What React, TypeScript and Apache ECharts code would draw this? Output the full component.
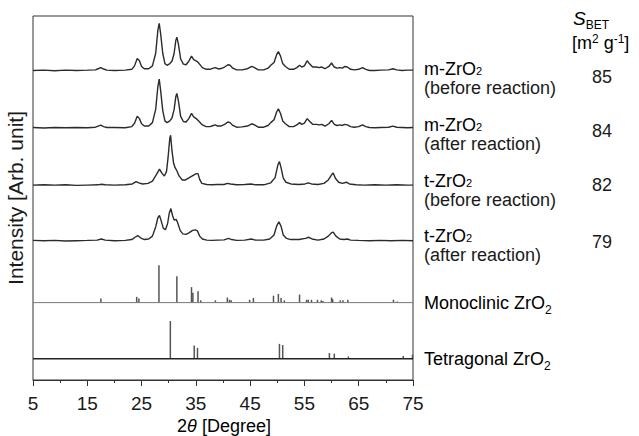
import React, { useEffect, useRef } from "react";
import * as echarts from "echarts";

const FONT = "'Liberation Sans', Arial, sans-serif";

// x axis (2θ, degree)
const xMin = 5;
const xMax = 75;
const xStep = 10;

// sample labels and BET surface areas
const sampleFormula = ["m-ZrO", "m-ZrO", "t-ZrO", "t-ZrO"];
const sampleState = ["(before reaction)", "(after reaction)", "(before reaction)", "(after reaction)"];
const sbetValues = ["85", "84", "82", "79"];
const refNames = ["Monoclinic ZrO", "Tetragonal ZrO"];

// vertical offsets of the stacked patterns (arb. unit)
const traceOffsets = [5.4, 4.4, 3.4, 2.43];
const refOffsets = [1.35, 0.37];

// XRD patterns: [2θ, intensity above own baseline]
const mBefore: [number, number][] = [
  [5, 0], [7, 0.005], [9, -0.005], [11, 0.005], [13, 0], [15, 0.005], [16.5, 0.01], [17.0, 0.03], [17.5, 0.05], [18.0, 0.025], [18.6, 0.005],
  [20, 0], [22, 0.005], [23.2, 0.02], [23.7, 0.08], [24.2, 0.21], [24.6, 0.17], [25.0, 0.07], [25.5, 0.03], [26.3, 0.03], [27.0, 0.08],
  [27.6, 0.3], [28.0, 0.7], [28.25, 0.82], [28.5, 0.65], [28.9, 0.3], [29.3, 0.12], [29.7, 0.09], [30.2, 0.12], [30.6, 0.16], [31.0, 0.3],
  [31.3, 0.52], [31.5, 0.58], [31.8, 0.45], [32.2, 0.2], [32.7, 0.11], [33.2, 0.1], [33.7, 0.16], [34.2, 0.25], [34.6, 0.19], [35.2, 0.16],
  [35.6, 0.12], [36.2, 0.05], [36.9, 0.02], [37.6, 0.02], [38.2, 0.04], [38.6, 0.05], [39.0, 0.03], [39.6, 0.03], [40.3, 0.06], [40.9, 0.1],
  [41.3, 0.09], [41.8, 0.04], [42.5, 0.01], [43.5, 0.01], [44.5, 0.03], [45.3, 0.07], [45.8, 0.05], [46.5, 0.01], [47.5, 0.01], [48.3, 0.04],
  [48.8, 0.09], [49.4, 0.14], [49.9, 0.28], [50.2, 0.33], [50.6, 0.25], [51.0, 0.12], [51.5, 0.07], [52.2, 0.02], [53.0, 0.02], [53.6, 0.05],
  [54.1, 0.09], [54.5, 0.06], [55.0, 0.08], [55.5, 0.17], [55.9, 0.12], [56.5, 0.06], [57.2, 0.06], [57.7, 0.05], [58.2, 0.06], [58.8, 0.03],
  [59.5, 0.07], [60.0, 0.13], [60.5, 0.06], [61.0, 0.04], [61.5, 0.05], [62.0, 0.04], [62.4, 0.07], [62.9, 0.06], [63.5, 0.02], [64.2, 0.01],
  [65.0, 0.02], [65.7, 0.05], [66.3, 0.02], [67, 0], [68, 0], [69, 0.005], [70.5, 0.01], [71.3, 0.03], [72, 0.01], [73, 0], [74, 0.005], [75, 0.005],
];

const mAfter: [number, number][] = [
  [5, 0.005], [7, -0.005], [9, 0.005], [11, 0], [13, 0.005], [15, 0], [16.5, 0.01], [17.0, 0.03], [17.5, 0.045], [18.0, 0.02], [18.6, 0.005],
  [20, 0.005], [22, 0], [23.2, 0.02], [23.7, 0.08], [24.2, 0.2], [24.6, 0.16], [25.0, 0.07], [25.5, 0.03], [26.3, 0.03], [27.0, 0.09],
  [27.6, 0.32], [28.0, 0.72], [28.25, 0.85], [28.5, 0.66], [28.9, 0.3], [29.3, 0.12], [29.7, 0.09], [30.2, 0.12], [30.6, 0.17], [31.0, 0.32],
  [31.3, 0.54], [31.5, 0.6], [31.8, 0.46], [32.2, 0.2], [32.7, 0.11], [33.2, 0.1], [33.7, 0.16], [34.2, 0.25], [34.6, 0.19], [35.2, 0.15],
  [35.6, 0.11], [36.2, 0.05], [36.9, 0.02], [37.6, 0.02], [38.2, 0.04], [38.6, 0.05], [39.0, 0.03], [39.6, 0.03], [40.3, 0.06], [40.9, 0.1],
  [41.3, 0.09], [41.8, 0.04], [42.5, 0.01], [43.5, 0.015], [44.5, 0.03], [45.3, 0.07], [45.8, 0.05], [46.5, 0.01], [47.5, 0.01], [48.3, 0.04],
  [48.8, 0.09], [49.4, 0.14], [49.9, 0.28], [50.2, 0.33], [50.6, 0.25], [51.0, 0.12], [51.5, 0.07], [52.2, 0.02], [53.0, 0.02], [53.6, 0.05],
  [54.1, 0.09], [54.5, 0.06], [55.0, 0.08], [55.5, 0.16], [55.9, 0.12], [56.5, 0.06], [57.2, 0.06], [57.7, 0.05], [58.2, 0.06], [58.8, 0.03],
  [59.5, 0.07], [60.0, 0.13], [60.5, 0.06], [61.0, 0.04], [61.5, 0.05], [62.0, 0.04], [62.4, 0.06], [62.9, 0.05], [63.5, 0.02], [64.2, 0.01],
  [65.0, 0.02], [65.7, 0.05], [66.3, 0.02], [67, 0.005], [68, 0], [69, 0.005], [70.5, 0.01], [71.3, 0.03], [72, 0.01], [73, 0.005], [74, 0], [75, 0.005],
];

const tBefore: [number, number][] = [
  [5, 0], [7, 0.005], [9, 0], [11, 0.005], [13, -0.005], [15, 0], [17, 0.005], [17.6, 0.015], [18.3, 0.005], [20, 0], [22, 0.005],
  [23.3, 0.02], [24.0, 0.06], [24.5, 0.04], [25.2, 0.02], [26.2, 0.03], [27.0, 0.07], [27.7, 0.18], [28.3, 0.28], [28.8, 0.2], [29.2, 0.16],
  [29.6, 0.24], [29.9, 0.5], [30.2, 0.82], [30.35, 0.87], [30.6, 0.6], [30.9, 0.38], [31.2, 0.3], [31.5, 0.25], [31.9, 0.16], [32.5, 0.09],
  [33.1, 0.09], [33.8, 0.13], [34.5, 0.17], [35.1, 0.2], [35.4, 0.2], [35.7, 0.1], [36.1, 0.03], [37, 0.01], [38, 0.005], [39, 0.01],
  [40.2, 0.01], [40.8, 0.03], [41.4, 0.02], [42.5, 0.005], [44, 0.01], [45.2, 0.02], [46, 0.005], [47.5, 0.005], [48.8, 0.04], [49.6, 0.13],
  [50.1, 0.35], [50.4, 0.41], [50.7, 0.3], [51.1, 0.12], [51.6, 0.05], [52.5, 0.02], [54, 0.01], [55.1, 0.02], [55.7, 0.04], [56.3, 0.02],
  [57.5, 0.01], [58.6, 0.03], [59.4, 0.09], [60.0, 0.18], [60.3, 0.21], [60.7, 0.12], [61.3, 0.05], [62.0, 0.03], [62.7, 0.05], [63.3, 0.02],
  [64.5, 0.005], [66, 0], [68, 0.005], [70, 0], [72, 0.005], [74, 0], [75, 0],
];

const tAfter: [number, number][] = [
  [5, 0.005], [7, 0], [9, 0.005], [11, -0.005], [13, 0], [15, 0.005], [16.8, 0.01], [17.6, 0.03], [18.3, 0.01], [20, 0], [22, 0.005],
  [23.2, 0.02], [23.8, 0.06], [24.3, 0.09], [24.8, 0.05], [25.5, 0.02], [26.3, 0.03], [27.0, 0.08], [27.6, 0.24], [28.0, 0.4], [28.3, 0.44],
  [28.6, 0.35], [29.0, 0.22], [29.4, 0.19], [29.8, 0.3], [30.1, 0.48], [30.4, 0.56], [30.7, 0.44], [31.0, 0.36], [31.4, 0.37], [31.7, 0.3],
  [32.1, 0.18], [32.6, 0.12], [33.2, 0.11], [33.8, 0.14], [34.4, 0.18], [34.9, 0.19], [35.3, 0.17], [35.7, 0.08], [36.2, 0.03], [37, 0.01],
  [38, 0.005], [39, 0.01], [40.2, 0.015], [41.0, 0.04], [41.6, 0.02], [42.5, 0.005], [44, 0.01], [45.2, 0.03], [46, 0.01], [47.5, 0.01],
  [48.6, 0.03], [49.4, 0.1], [49.9, 0.26], [50.3, 0.33], [50.7, 0.25], [51.1, 0.1], [51.7, 0.04], [52.5, 0.02], [54, 0.02], [55.2, 0.04],
  [55.8, 0.06], [56.4, 0.03], [57.5, 0.01], [58.6, 0.03], [59.4, 0.08], [60.0, 0.14], [60.3, 0.15], [60.8, 0.08], [61.5, 0.03], [62.3, 0.02],
  [62.9, 0.03], [63.5, 0.01], [65, 0.005], [67, 0], [69, 0.005], [71, 0], [73, 0.005], [75, 0],
];

// reference stick patterns: [2θ, relative intensity]
const monoclinicSticks: [number, number][] = [
  [17.5, 0.07], [24.1, 0.1], [24.5, 0.07], [28.2, 0.65], [31.5, 0.46], [34.2, 0.27], [34.45, 0.17], [35.4, 0.2], [35.9, 0.04],
  [38.6, 0.04], [40.8, 0.09], [41.2, 0.05], [41.5, 0.04], [44.9, 0.05], [45.6, 0.08], [49.3, 0.12], [50.2, 0.15], [50.7, 0.08],
  [51.3, 0.04], [54.1, 0.14], [55.4, 0.05], [55.7, 0.05], [56.3, 0.05], [57.4, 0.05], [58.1, 0.04], [58.4, 0.03], [60.0, 0.09],
  [60.2, 0.06], [61.6, 0.04], [62.1, 0.04], [63.0, 0.05], [64.4, 0.01], [65.8, 0.01], [69.1, 0.01], [71.4, 0.05], [72.1, 0.02], [72.6, 0.01],
];

const tetragonalSticks: [number, number][] = [
  [30.3, 0.66], [34.7, 0.23], [35.3, 0.19], [43.2, 0.01], [50.4, 0.26], [51.0, 0.24], [59.6, 0.1], [60.5, 0.09], [63.1, 0.04],
  [73.2, 0.05], [74.9, 0.07],
];

const traces = [mBefore, mAfter, tBefore, tAfter];
const sticks = [monoclinicSticks, tetragonalSticks];

const INK = "#1a1a1a";
const richStyles = {
  n: { fontSize: 18, lineHeight: 17, fontFamily: FONT, color: INK, verticalAlign: "top" },
  s: { fontSize: 11, lineHeight: 6, fontFamily: FONT, color: INK, verticalAlign: "top", padding: [6, 0, 0, 0] },
  sb: { fontSize: 12, lineHeight: 7, fontFamily: FONT, color: INK, verticalAlign: "top", padding: [10, 0, 0, 0] },
  p: { fontSize: 12, lineHeight: 12, fontFamily: FONT, color: INK, verticalAlign: "top", padding: [-1, 0, 0, 0] },
  i: { fontSize: 19, lineHeight: 17, fontFamily: FONT, color: INK, fontStyle: "italic", verticalAlign: "top" },
  an: { fontSize: 18, lineHeight: 18, fontFamily: FONT, color: INK },
  ai: { fontSize: 18, lineHeight: 18, fontFamily: FONT, color: INK, fontStyle: "italic" },
};

export default function App() {
  const ref = useRef<HTMLDivElement>(null);

  useEffect(() => {
    if (!ref.current) return;
    const chart = echarts.init(ref.current, undefined, { renderer: "svg" });

    const series: any[] = [];
    traces.forEach((pts, k) => {
      series.push({
        type: "line",
        data: pts.map(([x, y]) => [x, y + traceOffsets[k]]),
        showSymbol: false,
        symbol: "none",
        lineStyle: { color: "#2b2b2b", width: 1.4 },
        silent: true,
      });
    });
    sticks.forEach((list, k) => {
      series.push({
        type: "line",
        data: [[xMin, refOffsets[k]], [xMax, refOffsets[k]]],
        showSymbol: false,
        symbol: "none",
        lineStyle: { color: k === 0 ? "#777" : "#222", width: k === 0 ? 1 : 1.6 },
        silent: true,
      });
      series.push({
        type: "custom",
        data: list.map(([x, h]) => [x, refOffsets[k], refOffsets[k] + h]),
        encode: { x: 0, y: [1, 2] },
        renderItem: (_p: any, api: any) => {
          const a = api.coord([api.value(0), api.value(1)]);
          const b = api.coord([api.value(0), api.value(2)]);
          return {
            type: "line",
            shape: { x1: a[0], y1: a[1], x2: b[0], y2: b[1] },
            style: { stroke: "#555", lineWidth: 1.5 },
          };
        },
        silent: true,
      });
    });

    const graphic: any[] = [];
    const firstLineY = [68, 124, 180, 235];
    const sbetY = [77, 131, 185, 242];
    const lineGap = 19.5;
    sampleFormula.forEach((f, k) => {
      graphic.push({
        type: "text",
        x: 424,
        y: firstLineY[k] - 8.5,
        style: {
          text: `{n|${f}}{s|2}`,
          rich: richStyles,
          align: "left",
          verticalAlign: "top",
        },
      });
      graphic.push({
        type: "text",
        x: 424,
        y: firstLineY[k] + lineGap - 8.5,
        style: {
          text: sampleState[k],
          font: `18px ${FONT}`,
          lineHeight: 17,
          fill: INK,
          align: "left",
          verticalAlign: "top",
        },
      });
      graphic.push({
        type: "text",
        x: 602,
        y: sbetY[k],
        style: {
          text: sbetValues[k],
          font: `18px ${FONT}`,
          fill: INK,
          align: "center",
          verticalAlign: "middle",
        },
      });
    });
    const refY = [302, 358];
    refNames.forEach((nm, k) => {
      graphic.push({
        type: "text",
        x: 424,
        y: refY[k] - 8.5,
        style: {
          text: `{n|${nm}}{sb|2}`,
          rich: richStyles,
          align: "left",
          verticalAlign: "top",
        },
      });
    });
    graphic.push({
      type: "text",
      x: 573,
      y: 9,
      style: {
        text: "{i|S}{sb|BET}",
        rich: richStyles,
        align: "left",
        verticalAlign: "top",
      },
    });
    graphic.push({
      type: "text",
      x: 572,
      y: 34,
      style: {
        text: "{n|[m}{p|2}{n| g}{p|-1}{n|]}",
        rich: richStyles,
        align: "left",
        verticalAlign: "top",
      },
    });
    // x axis title
    graphic.push({
      type: "text",
      x: 224,
      y: 425.5,
      style: {
        text: "{an|2}{ai|θ}{an| [Degree]}",
        rich: richStyles,
        align: "center",
        verticalAlign: "middle",
      },
    });

    chart.setOption({
      animation: false,
      backgroundColor: "#fff",
      textStyle: { fontFamily: FONT },
      grid: {
        left: 33,
        top: 16,
        right: 226,
        bottom: 56,
        show: true,
        borderColor: "#333",
        borderWidth: 1,
        backgroundColor: "transparent",
        containLabel: false,
        outerBoundsMode: "none",
      },
      xAxis: {
        type: "value",
        min: xMin,
        max: xMax,
        interval: xStep,
        axisLine: { show: true, lineStyle: { color: "#333", width: 1 } },
        axisTick: { show: true, length: 6, inside: false, lineStyle: { color: "#333" } },
        minorTick: { show: true, splitNumber: 2, length: 3, lineStyle: { color: "#333" } },
        splitLine: { show: false },
        minorSplitLine: { show: false },
        axisLabel: { fontSize: 19, color: INK, margin: 14, fontFamily: FONT },
      },
      yAxis: {
        type: "value",
        min: 0,
        max: 6.35,
        axisLine: { show: false },
        axisTick: { show: false },
        axisLabel: { show: false },
        splitLine: { show: false },
        name: "Intensity [Arb. unit]",
        nameLocation: "middle",
        nameGap: 7,
        nameTextStyle: { fontSize: 21, color: INK, fontFamily: FONT },
      },
      series,
      graphic,
    });

    return () => chart.dispose();
  }, []);

  return (
    <div
      ref={ref}
      style={{ position: "absolute", left: 0, top: 0, width: 639, height: 436 }}
    />
  );
}
